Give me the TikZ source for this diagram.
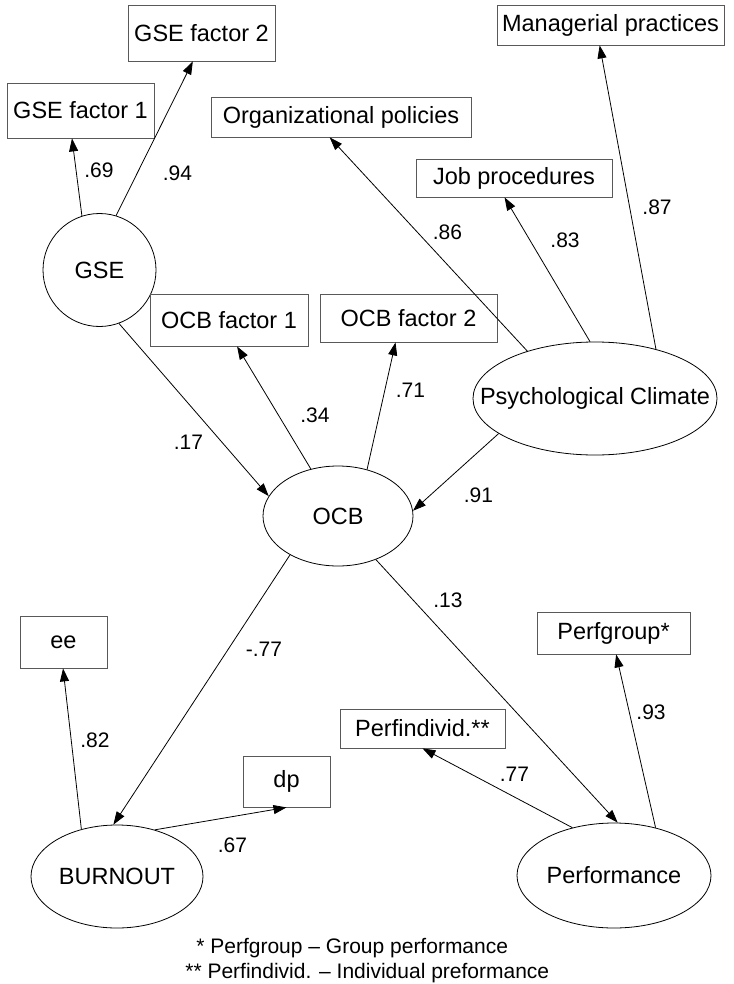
\documentclass[tikz,border=0pt]{standalone}
\usepackage{fontspec}
\setmainfont{Liberation Sans}
\usetikzlibrary{arrows.meta,shapes.geometric}

\begin{document}
\begin{tikzpicture}
[x=1pt,y=-1pt,line width=0.8pt,%
  >={Triangle[length=13pt,width=9pt]},%
  indicator/.style={shape=rectangle,draw=black!65,inner sep=0pt,font=\fontsize{23.5}{28}\selectfont},%
  latent/.style={shape=ellipse,draw,inner sep=0pt,font=\fontsize{23.5}{28}\selectfont},%
  loading/.style={inner sep=0pt,font=\fontsize{21}{25}\selectfont},%
  note/.style={inner sep=0pt,anchor=base west,font=\fontsize{21}{25}\selectfont}]
\useasboundingbox (0,0) rectangle (733,984);
% latent variables
\node[latent,shape=circle,minimum size=113pt] (gse) at (99.5,270) {GSE};
\node[latent,minimum width=244pt,minimum height=113pt,inner xsep=-30pt] (clim) at (595,398.5) {Psychological Climate};
\node[latent,minimum width=150pt,minimum height=100pt] (ocb) at (338,516) {OCB};
\node[latent,minimum width=172pt,minimum height=103pt] (burn) at (117,876.5) {BURNOUT};
\node[latent,minimum width=194pt,minimum height=105pt] (perf) at (614,875.5) {Performance};
% indicators
\node[indicator,minimum width=147pt,minimum height=55pt] (gsefa) at (80.5,110.5) {GSE factor 1};
\node[indicator,minimum width=147pt,minimum height=56pt] (gsefb) at (201.5,33) {GSE factor 2};
\node[indicator,minimum width=260pt,minimum height=40pt] (orgpol) at (341,117) {Organizational policies};
\node[indicator,minimum width=196pt,minimum height=38pt] (jobproc) at (514,178) {Job procedures};
\node[indicator,minimum width=227pt,minimum height=40pt] (mgrprac) at (610.5,25) {Managerial practices};
\node[indicator,minimum width=158pt,minimum height=52pt] (ocbfa) at (229,320) {OCB factor 1};
\node[indicator,minimum width=177pt,minimum height=48pt] (ocbfb) at (408.5,318) {OCB factor 2};
\node[indicator,minimum width=87pt,minimum height=52pt] (ee) at (63.5,642) {ee};
\node[indicator,minimum width=87pt,minimum height=51pt] (dp) at (286.5,781.5) {dp};
\node[indicator,minimum width=165pt,minimum height=39pt] (perfind) at (422.5,728.5) {Perfindivid.**};
\node[indicator,minimum width=153pt,minimum height=42pt] (perfgrp) at (613.5,633) {Perfgroup*};
% paths
\draw[->] (gse.108) -- (gsefa.253);
\draw[->] (gse.73) -- (gsefb.253);
\draw[->] (clim.145.6) -- (orgpol.241.2);
\draw[->] (clim.95) -- (jobproc.244.7);
\draw[->] (clim.39.4) -- (mgrprac.242.3);
\draw[->] (gse.290.4) -- (ocb.164.2);
\draw[->] (ocb.120.3) -- (ocbfa.287.1);
\draw[->] (ocb.58.9) -- (ocbfb.242.5);
\draw[->] (clim.200.6) -- (ocb.4.6);
\draw[->] (ocb.219.1) -- (burn.94.5);
\draw[->] (ocb.311.5) -- (perf.86.7);
\draw[->] (burn.127.9) -- (ee.269);
\draw[->] (burn.51.3) -- (dp.270);
\draw[->] (perf.131.6) -- (perfind.270);
\draw[->] (perf.49.2) -- (perfgrp.277);
% loadings
\node[loading] (lgsefa) at (99,170) {.69};
\node[loading] (lgsefb) at (177.5,173) {.94};
\node[loading] (lorgpol) at (447.5,232.5) {.86};
\node[loading] (ljobproc) at (565,240.5) {.83};
\node[loading] (lmgrprac) at (657,207.5) {.87};
\node[loading] (lgseocb) at (188.5,442.5) {.17};
\node[loading] (locbfa) at (315,415.5) {.34};
\node[loading] (locbfb) at (410.5,390.5) {.71};
\node[loading] (lclimocb) at (478.5,495) {.91};
\node[loading] (locbburn) at (264,649.5) {-.77};
\node[loading] (locbperf) at (448,600.5) {.13};
\node[loading] (lee) at (95,740) {.82};
\node[loading] (ldp) at (232.5,845.5) {.67};
\node[loading] (lperfind) at (514.5,774.5) {.77};
\node[loading] (lperfgrp) at (651,712.5) {.93};
% footnotes
\node[note] (notegrp) at (196,953) {* Perfgroup -- Group performance};
\node[note] (noteind) at (185,978) {** Perfindivid. -- Individual preformance};
\end{tikzpicture}
\end{document}
